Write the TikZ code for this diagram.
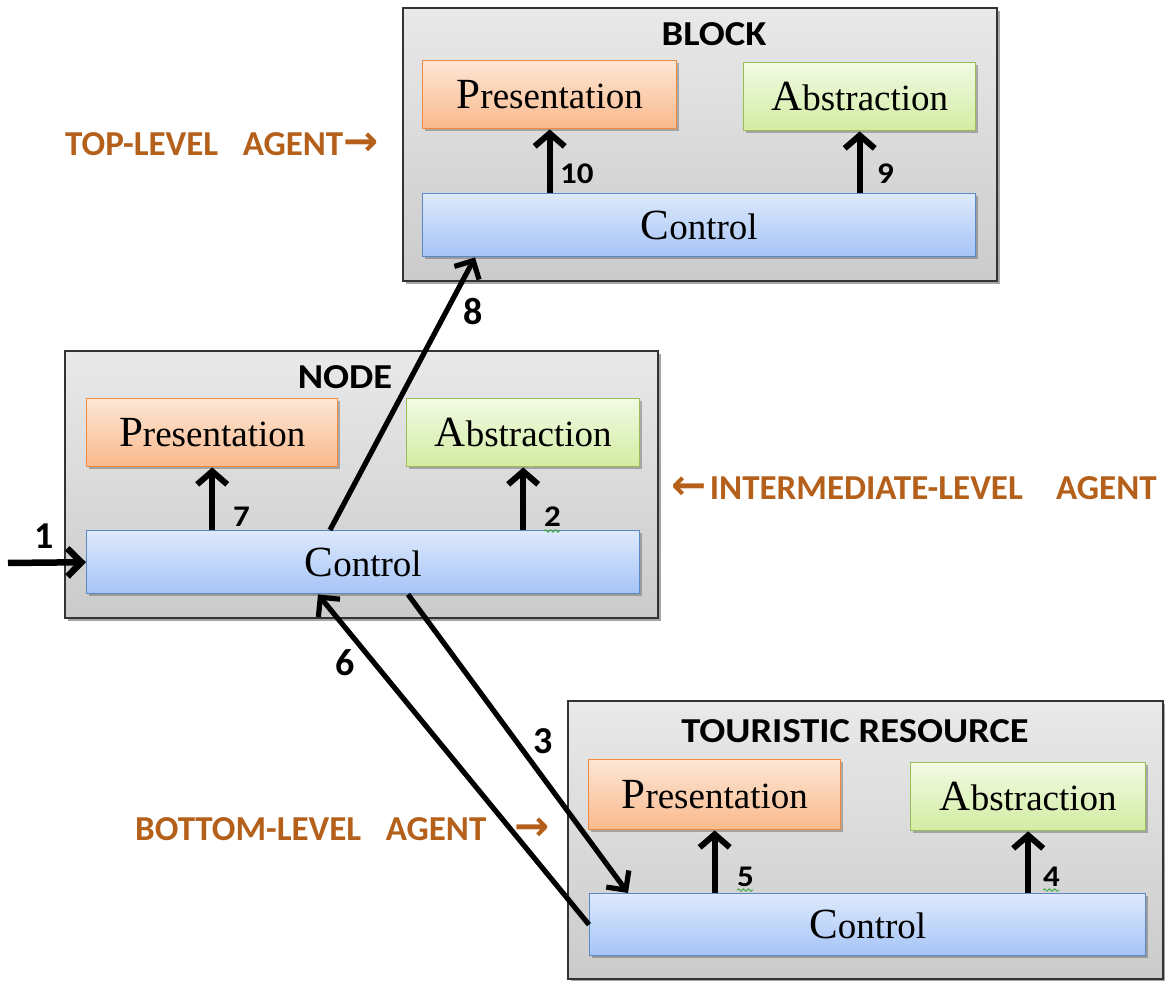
\documentclass[tikz,border=0pt]{standalone}
\usepackage{fontspec}
\setmainfont{Liberation Serif}
\newfontfamily\labelfont{Carlito}
\newfontfamily\symfont{DejaVu Sans}
\usetikzlibrary{arrows.meta,calc,shadows,decorations.pathmorphing}

\definecolor{panelTop}{HTML}{E9E9E9}
\definecolor{panelBot}{HTML}{CBCBCB}
\definecolor{panelEdge}{HTML}{333333}
\definecolor{presTop}{HTML}{FDE6D5}
\definecolor{presBot}{HTML}{F9B98C}
\definecolor{presEdge}{HTML}{F08A3C}
\definecolor{absTop}{HTML}{F2FAE4}
\definecolor{absBot}{HTML}{D2ECA2}
\definecolor{absEdge}{HTML}{9BBB59}
\definecolor{ctlTop}{HTML}{DEE9FC}
\definecolor{ctlBot}{HTML}{A5C4F7}
\definecolor{ctlEdge}{HTML}{5A88C8}
\definecolor{agentBrown}{HTML}{B5601A}
\definecolor{spellGreen}{HTML}{3DAA3D}

% first letter set larger than the rest of the word
\newcommand{\initcap}[2]{{\fontsize{43}{43}\selectfont #1}{\fontsize{37}{37}\selectfont #2}}
% slightly widened sans labels
\newcommand{\wide}[1]{\scalebox{1.1}[1]{#1}}
% arrow glyph used in the level captions
\newcommand{\capArrow}[1]{{\symfont\bfseries\fontsize{42}{42}\selectfont #1}}

\tikzset{
  panel/.style={draw=panelEdge, line width=1.8pt, top color=panelTop, bottom color=panelBot,
    anchor=north west, inner sep=0pt,
    drop shadow={shadow xshift=3pt, shadow yshift=-3pt, opacity=0.35, fill=black}},
  part/.style={anchor=north west, inner sep=0pt, line width=1.4pt,
    drop shadow={shadow xshift=2pt, shadow yshift=-2.5pt, opacity=0.25, fill=black}},
  prespart/.style={part, draw=presEdge, top color=presTop, bottom color=presBot},
  abspart/.style={part, draw=absEdge, top color=absTop, bottom color=absBot},
  ctlpart/.style={part, draw=ctlEdge, top color=ctlTop, bottom color=ctlBot},
  paneltitle/.style={font=\labelfont\bfseries\fontsize{35}{35}\selectfont, anchor=base, inner sep=0pt},
  agentlbl/.style={font=\labelfont\bfseries\fontsize{35}{35}\selectfont, text=agentBrown, anchor=base west, inner sep=0pt},
  smallnum/.style={font=\labelfont\bfseries\fontsize{30}{30}\selectfont, anchor=base west, inner sep=0pt},
  bignum/.style={font=\labelfont\bfseries\fontsize{38}{38}\selectfont, anchor=base, inner sep=0pt},
  uparrow/.style={line width=6pt, -{Straight Barb[length=13pt,width=30pt]}},
  flow/.style={line width=5.2pt, -{Straight Barb[length=14pt,width=28pt]}},
  squiggle/.style={draw=spellGreen, line width=0.9pt,
    decorate, decoration={snake, segment length=5pt, amplitude=1.2pt}},
}

\begin{document}
\begin{tikzpicture}[x=1pt,y=-1pt]
\useasboundingbox (0,0) rectangle (1165,981);

% ---- top-level agent: BLOCK ----
\node[panel, minimum width=594pt, minimum height=273pt] (bPanel) at (402,7) {};
\node[paneltitle] (bTitle) at (714,46) {\wide{BLOCK}};
\node[prespart, minimum width=254pt, minimum height=68pt] (bPres) at (422,60) {\initcap{P}{resentation}};
\node[abspart, minimum width=232pt, minimum height=68pt] (bAbs) at (743,62) {\initcap{A}{bstraction}};
\node[ctlpart, minimum width=553pt, minimum height=63pt] (bCtl) at (422,193) {\initcap{C}{ontrol}};
\draw[uparrow] (bCtl.north -| bPres.south) -- (bPres.south);
\draw[uparrow] (bCtl.north -| bAbs.south) -- (bAbs.south);
\node[smallnum] (n10) at (560,184) {\wide{10}};
\node[smallnum] (n9) at (877,184) {\wide{9}};

% ---- intermediate-level agent: NODE ----
\node[panel, minimum width=593pt, minimum height=267pt] (nPanel) at (64,350) {};
\node[paneltitle] (nTitle) at (345,389) {\wide{NODE}};
\node[prespart, minimum width=251pt, minimum height=68pt] (nPres) at (86,398) {\initcap{P}{resentation}};
\node[abspart, minimum width=233pt, minimum height=68pt] (nAbs) at (406,398) {\initcap{A}{bstraction}};
\node[ctlpart, minimum width=553pt, minimum height=63pt] (nCtl) at (86,530) {\initcap{C}{ontrol}};
\draw[uparrow] (nCtl.north -| nPres.south) -- (nPres.south);
\draw[uparrow] (nCtl.north -| nAbs.south) -- (nAbs.south);
\node[smallnum] (n7) at (233,526) {\wide{7}};
\node[smallnum] (n2) at (544,526) {\wide{2}};
\draw[squiggle] (544,531) -- (560,531);

% ---- bottom-level agent: TOURISTIC RESOURCE ----
\node[panel, minimum width=595pt, minimum height=278pt] (tPanel) at (567,700) {};
\node[paneltitle] (tTitle) at (855,742) {\wide{TOURISTIC RESOURCE}};
\node[prespart, minimum width=252pt, minimum height=70pt] (tPres) at (588,759) {\initcap{P}{resentation}};
\node[abspart, minimum width=235pt, minimum height=68pt] (tAbs) at (910,762) {\initcap{A}{bstraction}};
\node[ctlpart, minimum width=556pt, minimum height=62pt] (tCtl) at (589,893) {\initcap{C}{ontrol}};
\draw[uparrow] (tCtl.north -| tPres.south) -- (tPres.south);
\draw[uparrow] (tCtl.north -| tAbs.south) -- (tAbs.south);
\node[smallnum] (n5) at (737,886) {\wide{5}};
\node[smallnum] (n4) at (1043,886) {\wide{4}};
\draw[squiggle] (737,890) -- (753,890);
\draw[squiggle] (1043,890) -- (1059,890);

% ---- messages between agents ----
\coordinate (inStart) at (8,563);
\draw[line width=6.5pt, -{Straight Barb[length=14pt,width=28pt]}] (inStart) -- (nCtl.west);
\node[bignum] (m1) at (44,548) {1};

\draw[flow] ($(nCtl.north west)+(244,0)$) -- ($(bCtl.south west)+(53,0)$);
\node[bignum] (m8) at (473,325) {8};

\draw[flow] (tCtl.west) -- ($(nCtl.south west)+(232,0)$);
\node[bignum] (m6) at (345,675) {6};

\draw[flow] ($(nCtl.south west)+(322,0)$) -- ($(tCtl.north west)+(39,0)$);
\node[bignum] (m3) at (543,753) {3};

% ---- level captions ----
\node[agentlbl] (topLbl) at (65,156) {TOP-LEVEL\hspace{0.7em}AGENT\capArrow{→}};
\node[agentlbl] (midLbl) at (671,499) {\capArrow{←}\hspace{0.1em}INTERMEDIATE-LEVEL\hspace{0.95em}AGENT};
\node[agentlbl] (botLbl) at (135,840) {BOTTOM-LEVEL\hspace{0.7em}AGENT\hspace{0.8em}\capArrow{→}};
\end{tikzpicture}
\end{document}
